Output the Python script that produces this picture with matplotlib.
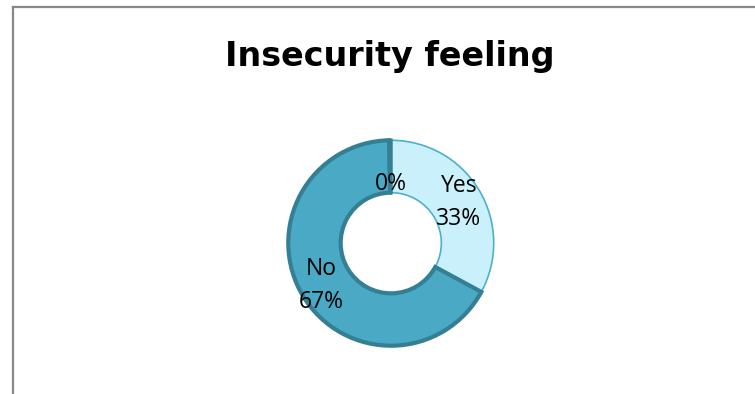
import matplotlib
matplotlib.use("Agg")
import numpy as np
import matplotlib.pyplot as plt
from matplotlib.lines import Line2D

# Data
categories = ["Yes", "No", ""]
values = [33, 67, 0.3]
shown_pct = ["33%", "67%", "0%"]

fill_colors = ["#caf1fb", "#4aa9c5", "#4aa9c5"]
edge_colors = ["#4db0ca", "#357f95", "#357f95"]
edge_widths = [1.2, 3.0, 2.5]
label_dist = [0.77, 0.80, 0.57]

plt.rcParams["font.family"] = ["Open Sans", "DejaVu Sans"]

W, H = 755, 394
fig = plt.figure(figsize=(W / 100, H / 100), dpi=100)

# donut centre / radius in pixels
cx, cy, r = 391, 243, 107
half = 1.2 * r
ax = fig.add_axes([(cx - half) / W, (H - cy - half) / H, 2 * half / W, 2 * half / H])
ax.set_xlim(-1.2, 1.2)
ax.set_ylim(-1.2, 1.2)
ax.axis("off")

wedges, _ = ax.pie(values, startangle=90, counterclock=False, radius=1.0,
                   colors=fill_colors,
                   wedgeprops=dict(width=0.51, linewidth=0))
for w, ec, lw in zip(wedges, edge_colors, edge_widths):
    w.set_edgecolor(ec)
    w.set_linewidth(lw)
    w.set_joinstyle("miter")

# data labels
for w, cat, pct, d in zip(wedges, categories, shown_pct, label_dist):
    ang = np.deg2rad((w.theta1 + w.theta2) / 2)
    txt = f"{cat}\n{pct}" if cat else pct
    ax.text(d * np.cos(ang), d * np.sin(ang), txt, ha="center", va="center",
            fontsize=16.5, color="black", linespacing=1.5)

fig.text(390 / W, 1 - 66 / H, "Insecurity feeling", ha="center", va="baseline",
         fontsize=24, fontweight="bold", color="black", family="DejaVu Sans")

# chart frame (left and top edges)
fig.add_artist(Line2D([13 / W, 13 / W], [0, 1 - 6.5 / H], transform=fig.transFigure,
                      color="#888888", linewidth=1.6))
fig.add_artist(Line2D([13 / W, 1], [1 - 6.5 / H, 1 - 6.5 / H], transform=fig.transFigure,
                      color="#888888", linewidth=1.6))

fig.savefig("out.png", dpi=100)
